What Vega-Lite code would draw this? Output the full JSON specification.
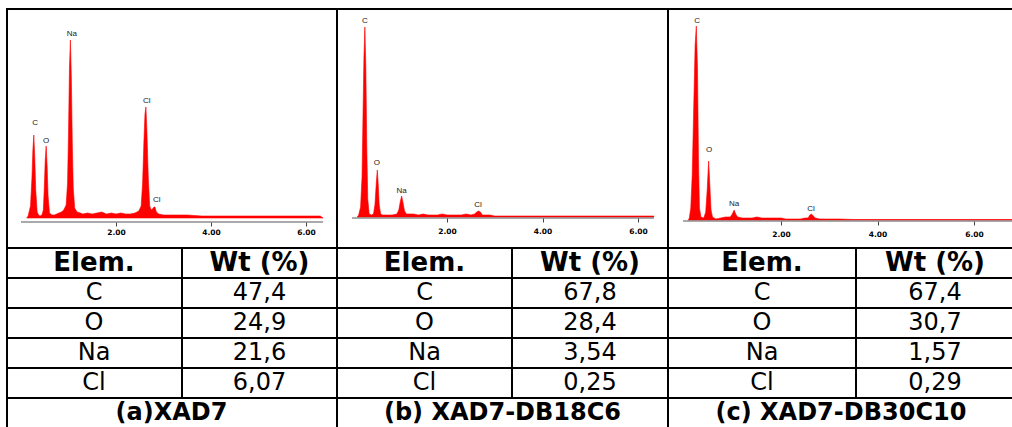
{
  "$schema": "https://vega.github.io/schema/vega-lite/v6.json",
  "background": "white",
  "padding": {"left": 6, "top": 8, "right": 0, "bottom": 0},
  "config": {"view": {"stroke": null}},
  "datasets": {
    "specA": [
      {"keV": 0.12, "counts": 0}, {"keV": 0.15, "counts": 2}, {"keV": 0.2, "counts": 12}, {"keV": 0.23, "counts": 40},
      {"keV": 0.25, "counts": 68}, {"keV": 0.27, "counts": 83}, {"keV": 0.29, "counts": 60}, {"keV": 0.31, "counts": 28},
      {"keV": 0.34, "counts": 6}, {"keV": 0.37, "counts": 3}, {"keV": 0.4, "counts": 2}, {"keV": 0.44, "counts": 3},
      {"keV": 0.47, "counts": 8}, {"keV": 0.49, "counts": 30}, {"keV": 0.51, "counts": 58}, {"keV": 0.53, "counts": 72},
      {"keV": 0.55, "counts": 52}, {"keV": 0.57, "counts": 22}, {"keV": 0.6, "counts": 5}, {"keV": 0.65, "counts": 3},
      {"keV": 0.7, "counts": 3}, {"keV": 0.75, "counts": 4}, {"keV": 0.8, "counts": 5}, {"keV": 0.85, "counts": 6},
      {"keV": 0.9, "counts": 8}, {"keV": 0.95, "counts": 13}, {"keV": 0.98, "counts": 35}, {"keV": 1.0, "counts": 85},
      {"keV": 1.02, "counts": 150}, {"keV": 1.04, "counts": 178}, {"keV": 1.06, "counts": 140}, {"keV": 1.08, "counts": 75},
      {"keV": 1.1, "counts": 30}, {"keV": 1.13, "counts": 10}, {"keV": 1.18, "counts": 6}, {"keV": 1.25, "counts": 5},
      {"keV": 1.3, "counts": 4}, {"keV": 1.4, "counts": 5}, {"keV": 1.5, "counts": 4}, {"keV": 1.6, "counts": 5},
      {"keV": 1.7, "counts": 6}, {"keV": 1.8, "counts": 4}, {"keV": 1.9, "counts": 5}, {"keV": 2.0, "counts": 4},
      {"keV": 2.1, "counts": 5}, {"keV": 2.2, "counts": 4}, {"keV": 2.3, "counts": 4}, {"keV": 2.4, "counts": 5},
      {"keV": 2.48, "counts": 7}, {"keV": 2.53, "counts": 12}, {"keV": 2.56, "counts": 35}, {"keV": 2.59, "counts": 80},
      {"keV": 2.61, "counts": 104}, {"keV": 2.63, "counts": 111}, {"keV": 2.65, "counts": 88}, {"keV": 2.68, "counts": 40},
      {"keV": 2.71, "counts": 12}, {"keV": 2.74, "counts": 8}, {"keV": 2.77, "counts": 9}, {"keV": 2.8, "counts": 11},
      {"keV": 2.82, "counts": 11}, {"keV": 2.85, "counts": 6}, {"keV": 2.9, "counts": 4}, {"keV": 3.0, "counts": 3},
      {"keV": 3.2, "counts": 3}, {"keV": 3.5, "counts": 3}, {"keV": 3.8, "counts": 2}, {"keV": 4.0, "counts": 2},
      {"keV": 4.5, "counts": 2}, {"keV": 5.0, "counts": 2}, {"keV": 5.5, "counts": 2}, {"keV": 6.0, "counts": 2},
      {"keV": 6.3, "counts": 2}, {"keV": 6.36, "counts": 0}
    ],
    "specB": [
      {"keV": 0.12, "counts": 0}, {"keV": 0.15, "counts": 2}, {"keV": 0.19, "counts": 10}, {"keV": 0.22, "counts": 40},
      {"keV": 0.24, "counts": 100}, {"keV": 0.26, "counts": 160}, {"keV": 0.28, "counts": 190}, {"keV": 0.3, "counts": 150},
      {"keV": 0.32, "counts": 70}, {"keV": 0.34, "counts": 18}, {"keV": 0.37, "counts": 3}, {"keV": 0.42, "counts": 2},
      {"keV": 0.46, "counts": 3}, {"keV": 0.49, "counts": 12}, {"keV": 0.52, "counts": 35}, {"keV": 0.54, "counts": 47},
      {"keV": 0.56, "counts": 32}, {"keV": 0.58, "counts": 12}, {"keV": 0.61, "counts": 3}, {"keV": 0.65, "counts": 2},
      {"keV": 0.75, "counts": 2}, {"keV": 0.85, "counts": 2}, {"keV": 0.95, "counts": 3}, {"keV": 0.99, "counts": 7},
      {"keV": 1.02, "counts": 15}, {"keV": 1.05, "counts": 21}, {"keV": 1.08, "counts": 14}, {"keV": 1.11, "counts": 6},
      {"keV": 1.15, "counts": 3}, {"keV": 1.2, "counts": 3}, {"keV": 1.3, "counts": 3}, {"keV": 1.4, "counts": 2},
      {"keV": 1.5, "counts": 3}, {"keV": 1.6, "counts": 2}, {"keV": 1.7, "counts": 2}, {"keV": 1.8, "counts": 2},
      {"keV": 1.9, "counts": 3}, {"keV": 2.0, "counts": 2}, {"keV": 2.1, "counts": 2}, {"keV": 2.2, "counts": 2},
      {"keV": 2.3, "counts": 2}, {"keV": 2.4, "counts": 3}, {"keV": 2.5, "counts": 2}, {"keV": 2.58, "counts": 3},
      {"keV": 2.62, "counts": 5}, {"keV": 2.66, "counts": 6}, {"keV": 2.7, "counts": 5}, {"keV": 2.74, "counts": 2},
      {"keV": 2.9, "counts": 2}, {"keV": 3.0, "counts": 1}, {"keV": 3.5, "counts": 1}, {"keV": 4.0, "counts": 1},
      {"keV": 4.5, "counts": 1}, {"keV": 5.0, "counts": 1}, {"keV": 5.5, "counts": 1}, {"keV": 6.0, "counts": 1},
      {"keV": 6.33, "counts": 1}
    ],
    "specC": [
      {"keV": 0.08, "counts": 0}, {"keV": 0.1, "counts": 2}, {"keV": 0.13, "counts": 12}, {"keV": 0.16, "counts": 45},
      {"keV": 0.19, "counts": 110}, {"keV": 0.22, "counts": 175}, {"keV": 0.245, "counts": 194}, {"keV": 0.27, "counts": 150},
      {"keV": 0.29, "counts": 60}, {"keV": 0.31, "counts": 12}, {"keV": 0.34, "counts": 3}, {"keV": 0.4, "counts": 2},
      {"keV": 0.44, "counts": 8}, {"keV": 0.47, "counts": 30}, {"keV": 0.5, "counts": 59}, {"keV": 0.52, "counts": 40},
      {"keV": 0.55, "counts": 10}, {"keV": 0.58, "counts": 3}, {"keV": 0.65, "counts": 1}, {"keV": 0.75, "counts": 2},
      {"keV": 0.85, "counts": 3}, {"keV": 0.9, "counts": 3}, {"keV": 0.95, "counts": 3}, {"keV": 0.99, "counts": 6},
      {"keV": 1.03, "counts": 10}, {"keV": 1.06, "counts": 6}, {"keV": 1.1, "counts": 3}, {"keV": 1.2, "counts": 2},
      {"keV": 1.3, "counts": 2}, {"keV": 1.4, "counts": 2}, {"keV": 1.5, "counts": 3}, {"keV": 1.6, "counts": 2},
      {"keV": 1.7, "counts": 2}, {"keV": 1.8, "counts": 2}, {"keV": 1.9, "counts": 2}, {"keV": 2.0, "counts": 2},
      {"keV": 2.1, "counts": 1}, {"keV": 2.2, "counts": 1}, {"keV": 2.3, "counts": 1}, {"keV": 2.4, "counts": 1},
      {"keV": 2.5, "counts": 2}, {"keV": 2.56, "counts": 2}, {"keV": 2.6, "counts": 5}, {"keV": 2.63, "counts": 6},
      {"keV": 2.67, "counts": 4}, {"keV": 2.71, "counts": 2}, {"keV": 2.8, "counts": 1}, {"keV": 3.0, "counts": 1},
      {"keV": 3.2, "counts": 1}, {"keV": 3.5, "counts": 0.5}, {"keV": 4.0, "counts": 0.5}, {"keV": 5.0, "counts": 0.5},
      {"keV": 6.0, "counts": 0.5}, {"keV": 6.8, "counts": 0.5}
    ],
    "labA": [
      {"el": "C", "keV": 0.295, "counts": 95}, {"el": "O", "keV": 0.526, "counts": 77}, {"el": "Na", "keV": 1.07, "counts": 184},
      {"el": "Cl", "keV": 2.65, "counts": 117}, {"el": "Cl", "keV": 2.86, "counts": 18}
    ],
    "labB": [
      {"el": "C", "keV": 0.28, "counts": 196}, {"el": "O", "keV": 0.53, "counts": 54}, {"el": "Na", "keV": 1.05, "counts": 26},
      {"el": "Cl", "keV": 2.65, "counts": 12}
    ],
    "labC": [
      {"el": "C", "keV": 0.26, "counts": 199}, {"el": "O", "keV": 0.51, "counts": 70}, {"el": "Na", "keV": 1.03, "counts": 16},
      {"el": "Cl", "keV": 2.62, "counts": 11}
    ],
    "tabA": [
      {"elem": "Elem.", "wt": "Wt (%)"}, {"elem": "C", "wt": "47,4"}, {"elem": "O", "wt": "24,9"},
      {"elem": "Na", "wt": "21,6"}, {"elem": "Cl", "wt": "6,07"}
    ],
    "tabB": [
      {"elem": "Elem.", "wt": "Wt (%)"}, {"elem": "C", "wt": "67,8"}, {"elem": "O", "wt": "28,4"},
      {"elem": "Na", "wt": "3,54"}, {"elem": "Cl", "wt": "0,25"}
    ],
    "tabC": [
      {"elem": "Elem.", "wt": "Wt (%)"}, {"elem": "C", "wt": "67,4"}, {"elem": "O", "wt": "30,7"},
      {"elem": "Na", "wt": "1,57"}, {"elem": "Cl", "wt": "0,29"}
    ]
  },
  "spacing": 0,
  "hconcat": [
    {
      "spacing": 0,
      "vconcat": [
        {
          "width": 331, "height": 240,
          "layer": [
            {"data": {"values": [{}]}, "mark": {"type": "rect", "clip": true, "fillOpacity": 0, "stroke": "black", "strokeWidth": 2},
             "encoding": {
               "x": {"datum": -0.316, "type": "quantitative", "scale": {"domain": [-0.316, 6.653], "nice": false, "zero": false},
                     "axis": {"values": [2, 4, 6], "format": ".2f", "offset": -26, "domain": false, "tickSize": 4, "tickColor": "#444", "labelFont": "DejaVu Sans", "labelFontWeight": "bold", "labelFontSize": 7.5, "labelColor": "black", "labelPadding": 2, "grid": false, "title": null}},
               "x2": {"datum": 6.653},
               "y": {"datum": -30, "type": "quantitative", "scale": {"domain": [-30, 210], "nice": false, "zero": false}, "axis": null},
               "y2": {"datum": 210}}},
            {"data": {"values": [{}]}, "mark": {"type": "rule", "clip": true, "color": "black", "strokeWidth": 4},
             "encoding": {"y": {"datum": 210, "type": "quantitative", "axis": null}}},
            {"data": {"values": [{}]}, "mark": {"type": "rule", "clip": true, "color": "black", "strokeWidth": 4},
             "encoding": {"x": {"datum": -0.316, "type": "quantitative", "axis": {"values": [2, 4, 6], "format": ".2f", "offset": -26, "domain": false, "tickSize": 4, "tickColor": "#444", "labelFont": "DejaVu Sans", "labelFontWeight": "bold", "labelFontSize": 7.5, "labelColor": "black", "labelPadding": 2, "grid": false, "title": null}}}},
            {"data": {"name": "specA"}, "mark": {"type": "area", "color": "#ff0000", "stroke": "#ff0000", "strokeWidth": 0.6},
             "encoding": {
               "x": {"field": "keV", "type": "quantitative",
                     "axis": {"values": [2, 4, 6], "format": ".2f", "offset": -26, "domain": false, "tickSize": 4, "tickColor": "#444", "labelFont": "DejaVu Sans", "labelFontWeight": "bold", "labelFontSize": 7.5, "labelColor": "black", "labelPadding": 2, "grid": false, "title": null}},
               "y": {"field": "counts", "type": "quantitative", "axis": null},
               "y2": {"datum": 0}}},
            {"data": {"values": [{}]}, "mark": {"type": "rule", "color": "#555", "strokeWidth": 1, "clip": true},
             "encoding": {
               "x": {"datum": 0, "type": "quantitative", "axis": {"values": [2, 4, 6], "format": ".2f", "offset": -26, "domain": false, "tickSize": 4, "tickColor": "#444", "labelFont": "DejaVu Sans", "labelFontWeight": "bold", "labelFontSize": 7.5, "labelColor": "black", "labelPadding": 2, "grid": false, "title": null}},
               "x2": {"datum": 6.36},
               "y": {"datum": -4, "type": "quantitative", "axis": null}}},
            {"data": {"name": "labA"}, "mark": {"type": "text", "font": "Liberation Sans", "fontSize": 8, "color": "#222"},
             "encoding": {
               "x": {"field": "keV", "type": "quantitative", "axis": {"values": [2, 4, 6], "format": ".2f", "offset": -26, "domain": false, "tickSize": 4, "tickColor": "#444", "labelFont": "DejaVu Sans", "labelFontWeight": "bold", "labelFontSize": 7.5, "labelColor": "black", "labelPadding": 2, "grid": false, "title": null}},
               "y": {"field": "counts", "type": "quantitative", "axis": null},
               "text": {"field": "el"}}}
          ]
        },
        {
          "spacing": 0,
          "hconcat": [
            {
              "width": 176, "height": 150, "data": {"name": "tabA"},
              "layer": [
                {"mark": {"type": "rect", "clip": true, "fillOpacity": 0, "stroke": "black", "strokeWidth": 2},
                 "encoding": {"y": {"field": "elem", "type": "nominal", "scale": {"domain": ["Elem.", "C", "O", "Na", "Cl"], "paddingInner": 0, "paddingOuter": 0}, "axis": null}}},
                {"data": {"values": [{}]}, "mark": {"type": "rule", "clip": true, "color": "black", "strokeWidth": 4},
                 "encoding": {"x": {"datum": 0, "type": "quantitative", "scale": {"domain": [0, 1]}, "axis": null}}},
                {"transform": [{"filter": "datum.elem === 'Elem.'"}], "mark": {"type": "text", "font": "DejaVu Sans", "fontWeight": "bold", "fontSize": 26, "color": "black"},
                 "encoding": {"y": {"field": "elem", "type": "nominal", "axis": null}, "text": {"field": "elem"}}},
                {"transform": [{"filter": "datum.elem !== 'Elem.'"}], "mark": {"type": "text", "font": "DejaVu Sans", "fontSize": 24, "color": "black"},
                 "encoding": {"y": {"field": "elem", "type": "nominal", "axis": null}, "text": {"field": "elem"}}}
              ]
            },
            {
              "width": 155, "height": 150, "data": {"name": "tabA"},
              "encoding": {"y": {"field": "elem", "type": "nominal", "scale": {"domain": ["Elem.", "C", "O", "Na", "Cl"], "paddingInner": 0, "paddingOuter": 0}, "axis": null}},
              "layer": [
                {"mark": {"type": "rect", "clip": true, "fillOpacity": 0, "stroke": "black", "strokeWidth": 2}},
                {"transform": [{"filter": "datum.elem === 'Elem.'"}], "mark": {"type": "text", "font": "DejaVu Sans", "fontWeight": "bold", "fontSize": 26, "color": "black"}, "encoding": {"text": {"field": "wt"}}},
                {"transform": [{"filter": "datum.elem !== 'Elem.'"}], "mark": {"type": "text", "font": "DejaVu Sans", "fontSize": 24, "color": "black"}, "encoding": {"text": {"field": "wt"}}}
              ]
            }
          ]
        },
        {
          "width": 331, "height": 30, "data": {"values": [{"cap": "(a)XAD7"}]},
          "layer": [
            {"mark": {"type": "rect", "clip": true, "fillOpacity": 0, "stroke": "black", "strokeWidth": 2}},
            {"mark": {"type": "rule", "clip": true, "color": "black", "strokeWidth": 4},
             "encoding": {"x": {"datum": 0, "type": "quantitative", "scale": {"domain": [0, 1]}, "axis": null}}},
            {"mark": {"type": "text", "font": "DejaVu Sans", "fontWeight": "bold", "fontSize": 24, "color": "black"}, "encoding": {"text": {"field": "cap"}}}
          ]
        }
      ]
    },
    {
      "spacing": 0,
      "vconcat": [
        {
          "width": 331, "height": 240,
          "layer": [
            {"data": {"values": [{}]}, "mark": {"type": "rect", "clip": true, "fillOpacity": 0, "stroke": "black", "strokeWidth": 2},
             "encoding": {
               "x": {"datum": -0.304, "type": "quantitative", "scale": {"domain": [-0.304, 6.628], "nice": false, "zero": false},
                     "axis": {"values": [2, 4, 6], "format": ".2f", "offset": -30, "domain": false, "tickSize": 4, "tickColor": "#444", "labelFont": "DejaVu Sans", "labelFontWeight": "bold", "labelFontSize": 7.5, "labelColor": "black", "labelPadding": 5, "grid": false, "title": null}},
               "x2": {"datum": 6.628},
               "y": {"datum": -31, "type": "quantitative", "scale": {"domain": [-31, 209], "nice": false, "zero": false}, "axis": null},
               "y2": {"datum": 209}}},
            {"data": {"values": [{}]}, "mark": {"type": "rule", "clip": true, "color": "black", "strokeWidth": 4},
             "encoding": {"y": {"datum": 209, "type": "quantitative", "axis": null}}},
            {"data": {"name": "specB"}, "mark": {"type": "area", "color": "#ff0000", "stroke": "#ff0000", "strokeWidth": 0.6},
             "encoding": {
               "x": {"field": "keV", "type": "quantitative",
                     "axis": {"values": [2, 4, 6], "format": ".2f", "offset": -30, "domain": false, "tickSize": 4, "tickColor": "#444", "labelFont": "DejaVu Sans", "labelFontWeight": "bold", "labelFontSize": 7.5, "labelColor": "black", "labelPadding": 5, "grid": false, "title": null}},
               "y": {"field": "counts", "type": "quantitative", "axis": null},
               "y2": {"datum": 0}}},
            {"data": {"values": [{}]}, "mark": {"type": "rule", "color": "#555", "strokeWidth": 1, "clip": true},
             "encoding": {
               "x": {"datum": 0.01, "type": "quantitative", "axis": {"values": [2, 4, 6], "format": ".2f", "offset": -30, "domain": false, "tickSize": 4, "tickColor": "#444", "labelFont": "DejaVu Sans", "labelFontWeight": "bold", "labelFontSize": 7.5, "labelColor": "black", "labelPadding": 5, "grid": false, "title": null}},
               "x2": {"datum": 6.335},
               "y": {"datum": -1, "type": "quantitative", "axis": null}}},
            {"data": {"name": "labB"}, "mark": {"type": "text", "font": "Liberation Sans", "fontSize": 8, "color": "#222"},
             "encoding": {
               "x": {"field": "keV", "type": "quantitative", "axis": {"values": [2, 4, 6], "format": ".2f", "offset": -30, "domain": false, "tickSize": 4, "tickColor": "#444", "labelFont": "DejaVu Sans", "labelFontWeight": "bold", "labelFontSize": 7.5, "labelColor": "black", "labelPadding": 5, "grid": false, "title": null}},
               "y": {"field": "counts", "type": "quantitative", "axis": null},
               "text": {"field": "el"}}}
          ]
        },
        {
          "spacing": 0,
          "hconcat": [
            {
              "width": 175, "height": 150, "data": {"name": "tabB"},
              "encoding": {"y": {"field": "elem", "type": "nominal", "scale": {"domain": ["Elem.", "C", "O", "Na", "Cl"], "paddingInner": 0, "paddingOuter": 0}, "axis": null}},
              "layer": [
                {"mark": {"type": "rect", "clip": true, "fillOpacity": 0, "stroke": "black", "strokeWidth": 2}},
                {"transform": [{"filter": "datum.elem === 'Elem.'"}], "mark": {"type": "text", "font": "DejaVu Sans", "fontWeight": "bold", "fontSize": 26, "color": "black"}, "encoding": {"text": {"field": "elem"}}},
                {"transform": [{"filter": "datum.elem !== 'Elem.'"}], "mark": {"type": "text", "font": "DejaVu Sans", "fontSize": 24, "color": "black"}, "encoding": {"text": {"field": "elem"}}}
              ]
            },
            {
              "width": 156, "height": 150, "data": {"name": "tabB"},
              "encoding": {"y": {"field": "elem", "type": "nominal", "scale": {"domain": ["Elem.", "C", "O", "Na", "Cl"], "paddingInner": 0, "paddingOuter": 0}, "axis": null}},
              "layer": [
                {"mark": {"type": "rect", "clip": true, "fillOpacity": 0, "stroke": "black", "strokeWidth": 2}},
                {"transform": [{"filter": "datum.elem === 'Elem.'"}], "mark": {"type": "text", "font": "DejaVu Sans", "fontWeight": "bold", "fontSize": 26, "color": "black"}, "encoding": {"text": {"field": "wt"}}},
                {"transform": [{"filter": "datum.elem !== 'Elem.'"}], "mark": {"type": "text", "font": "DejaVu Sans", "fontSize": 24, "color": "black"}, "encoding": {"text": {"field": "wt"}}}
              ]
            }
          ]
        },
        {
          "width": 331, "height": 30, "data": {"values": [{"cap": "(b) XAD7-DB18C6"}]},
          "layer": [
            {"mark": {"type": "rect", "clip": true, "fillOpacity": 0, "stroke": "black", "strokeWidth": 2}},
            {"mark": {"type": "text", "font": "DejaVu Sans", "fontWeight": "bold", "fontSize": 24, "color": "black"}, "encoding": {"text": {"field": "cap"}}}
          ]
        }
      ]
    },
    {
      "spacing": 0,
      "vconcat": [
        {
          "width": 346, "height": 240,
          "layer": [
            {"data": {"values": [{}]}, "mark": {"type": "rect", "clip": true, "fillOpacity": 0, "stroke": "black", "strokeWidth": 2},
             "encoding": {
               "x": {"datum": -0.342, "type": "quantitative", "scale": {"domain": [-0.342, 6.829], "nice": false, "zero": false},
                     "axis": {"values": [2, 4, 6], "format": ".2f", "offset": -27, "domain": false, "tickSize": 4, "tickColor": "#444", "labelFont": "DejaVu Sans", "labelFontWeight": "bold", "labelFontSize": 7.5, "labelColor": "black", "labelPadding": 5, "grid": false, "title": null}},
               "x2": {"datum": 6.829},
               "y": {"datum": -28, "type": "quantitative", "scale": {"domain": [-28, 212], "nice": false, "zero": false}, "axis": null},
               "y2": {"datum": 212}}},
            {"data": {"values": [{}]}, "mark": {"type": "rule", "clip": true, "color": "black", "strokeWidth": 4},
             "encoding": {"y": {"datum": 212, "type": "quantitative", "axis": null}}},
            {"data": {"name": "specC"}, "mark": {"type": "area", "color": "#ff0000", "stroke": "#ff0000", "strokeWidth": 0.6},
             "encoding": {
               "x": {"field": "keV", "type": "quantitative",
                     "axis": {"values": [2, 4, 6], "format": ".2f", "offset": -27, "domain": false, "tickSize": 4, "tickColor": "#444", "labelFont": "DejaVu Sans", "labelFontWeight": "bold", "labelFontSize": 7.5, "labelColor": "black", "labelPadding": 5, "grid": false, "title": null}},
               "y": {"field": "counts", "type": "quantitative", "axis": null},
               "y2": {"datum": 0}}},
            {"data": {"values": [{}]}, "mark": {"type": "rule", "color": "#555", "strokeWidth": 1, "clip": true},
             "encoding": {
               "x": {"datum": -0.03, "type": "quantitative", "axis": {"values": [2, 4, 6], "format": ".2f", "offset": -27, "domain": false, "tickSize": 4, "tickColor": "#444", "labelFont": "DejaVu Sans", "labelFontWeight": "bold", "labelFontSize": 7.5, "labelColor": "black", "labelPadding": 5, "grid": false, "title": null}},
               "x2": {"datum": 6.829},
               "y": {"datum": -1, "type": "quantitative", "axis": null}}},
            {"data": {"name": "labC"}, "mark": {"type": "text", "font": "Liberation Sans", "fontSize": 8, "color": "#222"},
             "encoding": {
               "x": {"field": "keV", "type": "quantitative", "axis": {"values": [2, 4, 6], "format": ".2f", "offset": -27, "domain": false, "tickSize": 4, "tickColor": "#444", "labelFont": "DejaVu Sans", "labelFontWeight": "bold", "labelFontSize": 7.5, "labelColor": "black", "labelPadding": 5, "grid": false, "title": null}},
               "y": {"field": "counts", "type": "quantitative", "axis": null},
               "text": {"field": "el"}}}
          ]
        },
        {
          "spacing": 0,
          "hconcat": [
            {
              "width": 188, "height": 150, "data": {"name": "tabC"},
              "encoding": {"y": {"field": "elem", "type": "nominal", "scale": {"domain": ["Elem.", "C", "O", "Na", "Cl"], "paddingInner": 0, "paddingOuter": 0}, "axis": null}},
              "layer": [
                {"mark": {"type": "rect", "clip": true, "fillOpacity": 0, "stroke": "black", "strokeWidth": 2}},
                {"transform": [{"filter": "datum.elem === 'Elem.'"}], "mark": {"type": "text", "font": "DejaVu Sans", "fontWeight": "bold", "fontSize": 26, "color": "black"}, "encoding": {"text": {"field": "elem"}}},
                {"transform": [{"filter": "datum.elem !== 'Elem.'"}], "mark": {"type": "text", "font": "DejaVu Sans", "fontSize": 24, "color": "black"}, "encoding": {"text": {"field": "elem"}}}
              ]
            },
            {
              "width": 158, "height": 150, "data": {"name": "tabC"},
              "encoding": {"y": {"field": "elem", "type": "nominal", "scale": {"domain": ["Elem.", "C", "O", "Na", "Cl"], "paddingInner": 0, "paddingOuter": 0}, "axis": null}},
              "layer": [
                {"mark": {"type": "rect", "clip": true, "fillOpacity": 0, "stroke": "black", "strokeWidth": 2}},
                {"transform": [{"filter": "datum.elem === 'Elem.'"}], "mark": {"type": "text", "font": "DejaVu Sans", "fontWeight": "bold", "fontSize": 26, "color": "black"}, "encoding": {"text": {"field": "wt"}}},
                {"transform": [{"filter": "datum.elem !== 'Elem.'"}], "mark": {"type": "text", "font": "DejaVu Sans", "fontSize": 24, "color": "black"}, "encoding": {"text": {"field": "wt"}}}
              ]
            }
          ]
        },
        {
          "width": 346, "height": 30, "data": {"values": [{"cap": "(c) XAD7-DB30C10"}]},
          "layer": [
            {"mark": {"type": "rect", "clip": true, "fillOpacity": 0, "stroke": "black", "strokeWidth": 2}},
            {"mark": {"type": "text", "font": "DejaVu Sans", "fontWeight": "bold", "fontSize": 24, "color": "black"}, "encoding": {"text": {"field": "cap"}}}
          ]
        }
      ]
    }
  ]
}
